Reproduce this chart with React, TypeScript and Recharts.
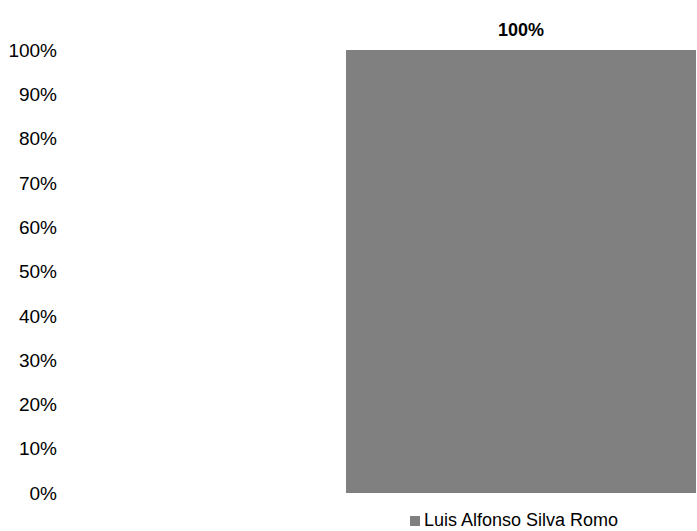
import { Bar, BarChart, LabelList, Legend, XAxis, YAxis } from "recharts"

const categories = ["Luis Alfonso Silva Romo"]
const shares = [1]
const yTicks = [0, 0.1, 0.2, 0.3, 0.4, 0.5, 0.6, 0.7, 0.8, 0.9, 1]

const data = categories.map((name, i) => ({ name, value: shares[i] }))

const FONT = "'Liberation Sans Narrow', 'Arial Narrow', 'Liberation Sans', Arial, sans-serif"
const pct = (v: number) => `${Math.round(v * 100)}%`

export default function App() {
  return (
    <div style={{ position: "absolute", left: 0, top: 0, fontFamily: FONT }}>
      <BarChart
        width={697}
        height={531}
        data={data}
        margin={{ top: 50, right: 1, bottom: 17, left: 0 }}
        barCategoryGap={0}
      >
        <XAxis dataKey="name" hide padding={{ left: 281, right: 0 }} />
        <YAxis
          width={65}
          domain={[0, 1]}
          ticks={yTicks}
          tickFormatter={pct}
          axisLine={false}
          tickLine={false}
          tick={{ fill: "#000", fontSize: 19, fontFamily: FONT }}
        />
        <Legend
          verticalAlign="bottom"
          iconType="square"
          iconSize={10}
          wrapperStyle={{ left: 410, bottom: 0, width: "auto", fontFamily: FONT, fontSize: 18 }}
          formatter={(value) => <span style={{ color: "#000" }}>{value}</span>}
        />
        <Bar dataKey="value" name="Luis Alfonso Silva Romo" fill="#808080" isAnimationActive={false}>
          <LabelList
            dataKey="value"
            position="top"
            offset={14}
            formatter={(v: number) => pct(v)}
            style={{ fill: "#000", fontWeight: "bold", fontSize: 18, fontFamily: FONT }}
          />
        </Bar>
      </BarChart>
    </div>
  )
}
